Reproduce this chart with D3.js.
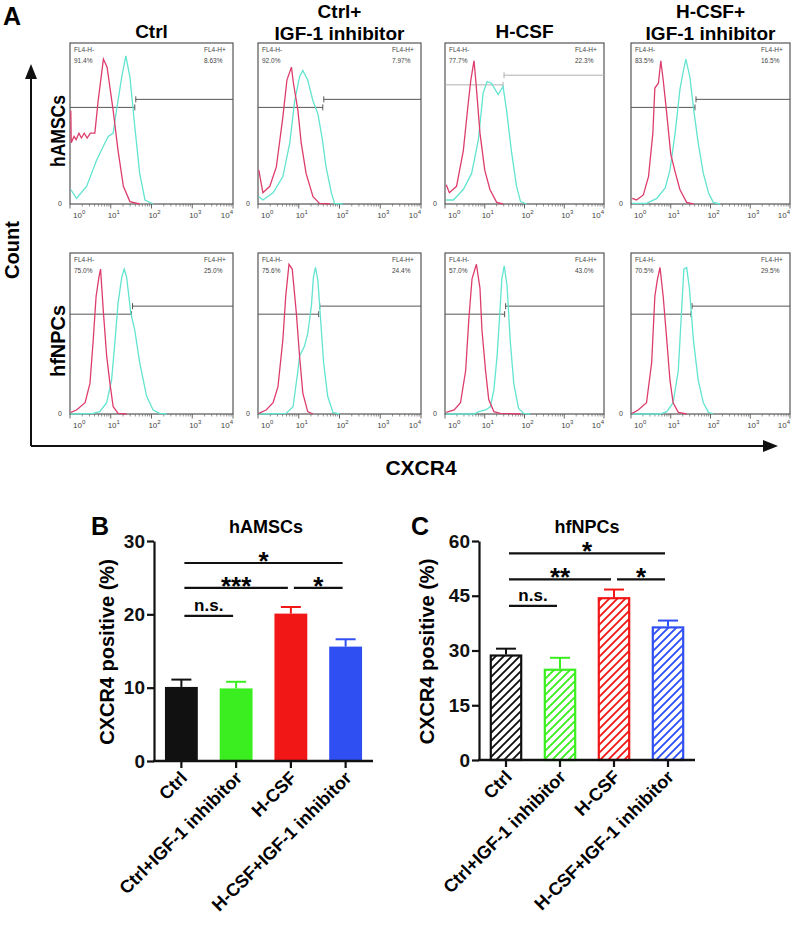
<!DOCTYPE html>
<html><head><meta charset="utf-8">
<script src="https://cdn.jsdelivr.net/npm/d3@7/dist/d3.min.js"></script>
<style>body{margin:0;background:#fff} text{font-family:"Liberation Sans",Arial,sans-serif}</style>
</head><body><svg id="c" width="800" height="926"></svg>
<script>
// ---------- Panel A: flow histograms, points are [log10(CXCR4 intensity), % of max count] ----------
const columnTitles = [["Ctrl"], ["Ctrl+", "IGF-1 inhibitor"], ["H-CSF"], ["H-CSF+", "IGF-1 inhibitor"]];
const rowLabels = ["hAMSCs", "hfNPCs"];
const decadeTicks = [0, 1, 2, 3, 4];

const ctrlA_red = [[0.02,58],[0.03,38],[0.1,42],[0.15,40],[0.22,44],[0.28,41],[0.35,44],[0.42,41],[0.5,44],[0.61,44],[0.69,64],[0.82,90],[0.91,85],[1.06,58],[1.18,33],[1.31,11],[1.47,1.5],[1.71,0]];
const ctrlA_cyan = [[0.02,9],[0.16,3.5],[0.41,11],[0.65,27],[0.82,36],[0.94,42],[1.06,44],[1.14,58],[1.27,79],[1.37,92],[1.47,79],[1.59,48],[1.71,19],[1.84,2.5],[2.04,0]];
const ctrlIgfA_red = [[0.02,21],[0.12,7],[0.29,11],[0.45,23],[0.61,54],[0.71,77],[0.82,85],[0.87,75],[0.98,58],[1.06,38],[1.18,19],[1.35,4.5],[1.51,0.4],[1.76,0]];
const ctrlIgfA_cyan = [[0.02,4.5],[0.12,2.5],[0.37,7],[0.61,17],[0.78,38],[0.9,64],[1.02,79],[1.1,83],[1.22,77],[1.35,64],[1.47,56],[1.58,40],[1.67,23],[1.8,7],[1.88,0.4],[2.08,0]];
const hcsfA_red = [[0.03,12],[0.11,7],[0.29,11],[0.46,33],[0.59,64],[0.65,77],[0.73,89],[0.78,75],[0.88,44],[1.0,21],[1.13,9],[1.3,1],[1.46,0]];
const hcsfA_cyan = [[0.03,2.5],[0.21,2.5],[0.46,9],[0.67,19],[0.84,40],[0.96,69],[1.06,76],[1.17,75],[1.24,72],[1.34,68],[1.46,73],[1.55,58],[1.67,33],[1.8,11],[1.9,1.5],[2.05,0]];
const hcsfIgfA_red = [[0.03,3.5],[0.14,2.5],[0.31,5.6],[0.44,17],[0.55,44],[0.6,72],[0.69,75],[0.75,89],[0.81,77],[0.9,56],[1.0,31],[1.11,20],[1.23,9],[1.4,1],[1.57,0]];
const hcsfIgfA_cyan = [[0.03,0.4],[0.39,0.4],[0.65,3.5],[0.86,10],[0.98,21],[1.11,44],[1.23,71],[1.32,83],[1.38,90],[1.48,79],[1.58,58],[1.69,38],[1.82,19],[1.95,7],[2.07,1],[2.24,0]];
const ctrlN_red = [[0.02,1],[0.16,2.5],[0.37,7],[0.49,19],[0.57,46],[0.64,73],[0.71,85],[0.75,90],[0.82,63],[0.9,36],[0.98,19],[1.06,4.5],[1.18,0.4],[1.39,0]];
const ctrlN_cyan = [[0.02,0],[0.57,0.4],[0.73,1.5],[0.9,7],[1.02,21],[1.1,44],[1.18,69],[1.27,85],[1.33,90],[1.39,85],[1.49,63],[1.59,52],[1.71,32],[1.88,11],[2.04,2.5],[2.2,0.4],[2.37,0]];
const ctrlIgfN_red = [[0.02,0.4],[0.2,2.5],[0.37,7],[0.49,17],[0.61,46],[0.68,73],[0.76,93],[0.84,90],[0.94,63],[1.02,36],[1.1,13],[1.22,1.5],[1.35,0]];
const ctrlIgfN_cyan = [[0.02,0],[0.69,0.4],[0.86,4.5],[0.98,27],[1.02,36],[1.14,42],[1.22,50],[1.31,67],[1.36,85],[1.41,91],[1.47,83],[1.53,61],[1.61,32],[1.71,11],[1.84,1],[2.0,0]];
const hcsfN_red = [[0.03,1],[0.23,2.5],[0.39,7],[0.52,27],[0.6,59],[0.68,84],[0.79,93],[0.88,78],[0.93,52],[1.02,27],[1.1,9],[1.23,1.5],[1.39,0.4],[1.89,0]];
const hcsfN_cyan = [[0.03,0],[0.73,0],[0.85,1.5],[1.02,2.5],[1.14,4.5],[1.23,15],[1.31,36],[1.38,63],[1.43,84],[1.49,92],[1.56,80],[1.64,46],[1.73,19],[1.85,3.5],[1.98,0.4],[2.14,0]];
const hcsfIgfN_red = [[0.03,0.4],[0.18,2.5],[0.39,7],[0.52,32],[0.6,73],[0.66,83],[0.73,91],[0.81,73],[0.9,46],[0.98,21],[1.06,7],[1.19,1],[1.4,0]];
const hcsfIgfN_cyan = [[0.03,0],[0.73,0],[0.9,1.5],[1.06,7],[1.19,27],[1.27,63],[1.33,90],[1.4,91],[1.47,78],[1.57,46],[1.69,21],[1.82,7],[1.95,1],[2.07,0]];

const redCurves = [ctrlA_red, ctrlIgfA_red, hcsfA_red, hcsfIgfA_red, ctrlN_red, ctrlIgfN_red, hcsfN_red, hcsfIgfN_red];
const cyanCurves = [ctrlA_cyan, ctrlIgfA_cyan, hcsfA_cyan, hcsfIgfA_cyan, ctrlN_cyan, ctrlIgfN_cyan, hcsfN_cyan, hcsfIgfN_cyan];
const gateLog = [1.59, 1.59, 1.46, 1.61, 1.51, 1.49, 1.50, 1.51];
const gateLowLevel = [60, 60, 74, 60, 62, 62, 62, 62];
const gateHighLevel = [65, 65, 80, 65, 67, 67, 67, 67];
const negPct = ["91.4%", "92.0%", "77.7%", "83.5%", "75.0%", "75.6%", "57.0%", "70.5%"];
const posPct = ["8.63%", "7.97%", "22.3%", "16.5%", "25.0%", "24.4%", "43.0%", "29.5%"];

// ---------- Panels B & C ----------
const categories = ["Ctrl", "Ctrl+IGF-1 inhibitor", "H-CSF", "H-CSF+IGF-1 inhibitor"];
const barColors = ["#111111", "#3bee1f", "#f21717", "#2f4ff3"];
const hamscMean = [10.1, 9.9, 20.1, 15.6];
const hamscErr = [1.0, 0.9, 0.9, 1.0];
const hfnpcMean = [28.9, 25.0, 44.6, 36.6];
const hfnpcErr = [1.6, 3.0, 2.1, 1.6];
const hamscTicks = [0, 10, 20, 30];
const hfnpcTicks = [0, 15, 30, 45, 60];
const sigB = [{a:0,b:1,y:19.8,t:"n.s."},{a:0,b:2,y:23.6,t:"***"},{a:2,b:3,y:23.6,t:"*"},{a:0,b:3,y:27.0,t:"*"}];
const sigC = [{a:0,b:1,y:42.2,t:"n.s."},{a:0,b:2,y:49.5,t:"**"},{a:2,b:3,y:49.5,t:"*"},{a:0,b:3,y:56.6,t:"*"}];

const svg = d3.select("#c");
const defs = svg.append("defs");

// ===== Panel A =====
const colLeft = [70, 258, 445, 631];
const colWidth = [163, 163, 159, 159];
const rowTop = [43, 253];
const boxH = 161;

svg.append("text").attr("x", 3).attr("y", 25).attr("font-size", 25).attr("font-weight", "bold").text("A");

columnTitles.forEach((lines, i) => {
  const cx = colLeft[i] + colWidth[i] / 2;
  const t = svg.append("text").attr("text-anchor", "middle").attr("font-size", 19).attr("font-weight", "bold");
  if (lines.length === 1) t.append("tspan").attr("x", cx).attr("y", 38).text(lines[0]);
  else {
    t.append("tspan").attr("x", cx).attr("y", 18).text(lines[0]);
    t.append("tspan").attr("x", cx).attr("y", 40).text(lines[1]);
  }
});

rowLabels.forEach((lab, r) => {
  const cy = rowTop[r] + 88;
  svg.append("text").attr("transform", `translate(${65},${cy}) rotate(-90)`)
    .attr("text-anchor", "middle").attr("font-size", 21).attr("font-weight", "bold")
    .attr("textLength", 72).attr("lengthAdjust", "spacingAndGlyphs").text(lab);
});

// Count / CXCR4 arrows
const ax = svg.append("g").attr("stroke", "#111").attr("stroke-width", 2).attr("fill", "none");
ax.append("path").attr("d", "M31,446 L31,78");
ax.append("path").attr("d", "M31,446 L765,446");
svg.append("path").attr("d", "M25,79 L31,64 L37,79 Z").attr("fill", "#111");
svg.append("path").attr("d", "M763,440 L778,446 L763,452 Z").attr("fill", "#111");
svg.append("text").attr("transform", "translate(19,250) rotate(-90)").attr("text-anchor", "middle")
  .attr("font-size", 20).attr("font-weight", "bold").text("Count");
svg.append("text").attr("x", 421).attr("y", 475).attr("text-anchor", "middle")
  .attr("font-size", 21).attr("font-weight", "bold").text("CXCR4");

const line = d3.line().curve(d3.curveLinear);
for (let r = 0; r < 2; r++) {
  for (let c = 0; c < 4; c++) {
    const k = r * 4 + c;
    const x0 = colLeft[c], x1 = colLeft[c] + colWidth[c];
    const y0 = rowTop[r], y1 = rowTop[r] + boxH;
    const x = d3.scaleLog().domain([1, 1e4]).range([x0, x1]);
    const y = d3.scaleLinear().domain([0, 100]).range([y1, y0]);
    const g = svg.append("g");
    g.append("rect").attr("x", x0).attr("y", y0).attr("width", x1 - x0).attr("height", y1 - y0)
      .attr("fill", "none").attr("stroke", "#555").attr("stroke-width", 1.2);
    const minor = [];
    for (let d = 0; d < 4; d++) for (let m = 2; m < 10; m++) minor.push(m * Math.pow(10, d));
    g.selectAll(".mn").data(minor).enter().append("line")
      .attr("x1", d => x(d)).attr("x2", d => x(d)).attr("y1", y1).attr("y2", y1 + 2.5)
      .attr("stroke", "#666").attr("stroke-width", 0.7);
    g.selectAll(".mj").data(decadeTicks).enter().append("line")
      .attr("x1", d => x(Math.pow(10, d))).attr("x2", d => x(Math.pow(10, d))).attr("y1", y1).attr("y2", y1 + 4.5)
      .attr("stroke", "#555").attr("stroke-width", 0.9);
    decadeTicks.forEach(d => {
      const anchor = d === 0 ? "start" : (d === 4 ? "end" : "middle");
      const px = x(Math.pow(10, d)) + (d === 0 ? 3 : (d === 4 ? 0 : 3));
      const t = g.append("text").attr("x", px).attr("y", y1 + 14).attr("font-size", 8)
        .attr("fill", "#444").attr("text-anchor", anchor);
      t.append("tspan").text("10");
      t.append("tspan").attr("dy", -4).attr("font-size", 6).text(d);
    });
    g.append("text").attr("x", x0 - 8).attr("y", y1 + 2).attr("font-size", 7).attr("fill", "#444")
      .attr("text-anchor", "end").text("0");
    const gx = x(Math.pow(10, gateLog[k]));
    const gateColor = k === 2 ? "#b0b0b0" : "#555";
    const ly = y(gateLowLevel[k]), hy = y(gateHighLevel[k]);
    g.append("line").attr("x1", x0).attr("x2", gx).attr("y1", ly).attr("y2", ly).attr("stroke", gateColor).attr("stroke-width", 1);
    g.append("line").attr("x1", gx + 1).attr("x2", x1).attr("y1", hy).attr("y2", hy).attr("stroke", gateColor).attr("stroke-width", 1);
    g.append("line").attr("x1", gx).attr("x2", gx).attr("y1", ly - 3).attr("y2", ly + 3).attr("stroke", gateColor).attr("stroke-width", 1);
    g.append("line").attr("x1", gx + 1).attr("x2", gx + 1).attr("y1", hy - 3).attr("y2", hy + 3).attr("stroke", gateColor).attr("stroke-width", 1);
    g.append("path").attr("d", line(cyanCurves[k].map(p => [x(Math.pow(10, p[0])), y(p[1])])))
      .attr("fill", "none").attr("stroke", "#62e4d0").attr("stroke-width", 1.3);
    g.append("path").attr("d", line(redCurves[k].map(p => [x(Math.pow(10, p[0])), y(p[1])])))
      .attr("fill", "none").attr("stroke", "#dd3d6c").attr("stroke-width", 1.3);
    const lab = g.append("g").attr("font-size", 6.5).attr("fill", "#444");
    lab.append("text").attr("x", x0 + 4).attr("y", y0 + 9).text("FL4-H-");
    lab.append("text").attr("x", x0 + 4).attr("y", y0 + 20).text(negPct[k]);
    lab.append("text").attr("x", x1 - 29).attr("y", y0 + 9).text("FL4-H+");
    lab.append("text").attr("x", x1 - 29).attr("y", y0 + 20).text(posPct[k]);
  }
}

// ===== Bar charts =====
function hatch(id, color) {
  const p = defs.append("pattern").attr("id", id).attr("patternUnits", "userSpaceOnUse")
    .attr("width", 8).attr("height", 8);
  p.append("path").attr("d", "M-2,2 L2,-2 M0,8 L8,0 M6,10 L10,6")
    .attr("stroke", color).attr("stroke-width", 1.9);
}
barColors.forEach((c, i) => hatch("h" + i, c));

function drawBars(o) {
  const x = d3.scaleBand().domain(categories).range([o.x0, o.x1]).paddingInner(0.4).paddingOuter(0.2);
  const y = d3.scaleLinear().domain([0, o.max]).range([o.yb, o.yt]);
  const g = svg.append("g");
  g.append("text").attr("x", o.letterX).attr("y", 535).attr("font-size", 25).attr("font-weight", "bold").text(o.letter);
  g.append("text").attr("x", o.titleX).attr("y", 533).attr("text-anchor", "middle")
    .attr("font-size", 18).attr("font-weight", "bold").text(o.title);
  g.append("text").attr("transform", `translate(${o.labX},${(o.yb + o.yt) / 2 + 1}) rotate(-90)`)
    .attr("text-anchor", "middle").attr("dy", "0.35em").attr("font-size", 20).attr("font-weight", "bold")
    .text("CXCR4 positive (%)");
  categories.forEach((cat, i) => {
    const bx = x(cat), bw = x.bandwidth(), cx = bx + bw / 2;
    const top = y(o.mean[i]);
    g.append("line").attr("x1", cx).attr("x2", cx).attr("y1", top).attr("y2", y(o.mean[i] + o.err[i]))
      .attr("stroke", barColors[i]).attr("stroke-width", 2);
    g.append("line").attr("x1", cx - 10).attr("x2", cx + 10).attr("y1", y(o.mean[i] + o.err[i])).attr("y2", y(o.mean[i] + o.err[i]))
      .attr("stroke", barColors[i]).attr("stroke-width", 2);
    if (o.hatched) {
      g.append("rect").attr("x", bx + 1).attr("y", top + 1).attr("width", bw - 2).attr("height", y(0) - top - 1)
        .attr("fill", `url(#h${i})`).attr("stroke", barColors[i]).attr("stroke-width", 2.2);
    } else {
      g.append("rect").attr("x", bx).attr("y", top).attr("width", bw).attr("height", y(0) - top)
        .attr("fill", barColors[i]);
    }
  });
  const ya = g.append("g").attr("transform", `translate(${o.x0},0)`)
    .call(d3.axisLeft(y).tickValues(o.ticks).tickSize(7).tickSizeOuter(0).tickPadding(2));
  ya.select(".domain").attr("stroke", "#111").attr("stroke-width", 2.2);
  ya.selectAll(".tick line").attr("stroke", "#111").attr("stroke-width", 2.2);
  ya.selectAll(".tick text").attr("font-size", 19).attr("font-weight", "bold").attr("fill", "#111")
    .attr("font-family", "Liberation Sans, Arial, sans-serif");
  g.append("line").attr("x1", o.x0 - 1).attr("x2", o.x1).attr("y1", y(0)).attr("y2", y(0)).attr("stroke", "#111").attr("stroke-width", 2.4);
  categories.forEach((cat, i) => {
    const cx = x(cat) + x.bandwidth() / 2;
    g.append("line").attr("x1", cx).attr("x2", cx).attr("y1", y(0)).attr("y2", y(0) + 7).attr("stroke", "#111").attr("stroke-width", 2.2);
    g.append("text").attr("transform", `translate(${cx + 7},${y(0) + 18}) rotate(-45)`)
      .attr("text-anchor", "end").attr("font-size", 18).attr("font-weight", "bold").text(cat);
  });
  o.sig.forEach(s => {
    const xa = x(categories[s.a]) + x.bandwidth() / 2 + 3;
    const xb = x(categories[s.b]) + x.bandwidth() / 2 - 3;
    const ly = y(s.y);
    g.append("line").attr("x1", xa).attr("x2", xb).attr("y1", ly).attr("y2", ly).attr("stroke", "#111").attr("stroke-width", 2.2);
    const isStar = s.t.indexOf("*") >= 0;
    g.append("text").attr("x", (xa + xb) / 2).attr("y", isStar ? ly + 7 : ly - 5).attr("text-anchor", "middle")
      .attr("font-size", isStar ? 26 : 17).attr("font-weight", "bold").text(s.t);
  });
}

drawBars({x0: 154, x1: 373, yb: 761, yt: 541, max: 30, ticks: hamscTicks, mean: hamscMean, err: hamscErr,
  sig: sigB, hatched: false, letter: "B", letterX: 91, title: "hAMSCs", titleX: 266, labX: 107});
drawBars({x0: 479, x1: 695, yb: 760, yt: 541, max: 60, ticks: hfnpcTicks, mean: hfnpcMean, err: hfnpcErr,
  sig: sigC, hatched: true, letter: "C", letterX: 411, title: "hfNPCs", titleX: 587, labX: 427});
</script></body></html>
